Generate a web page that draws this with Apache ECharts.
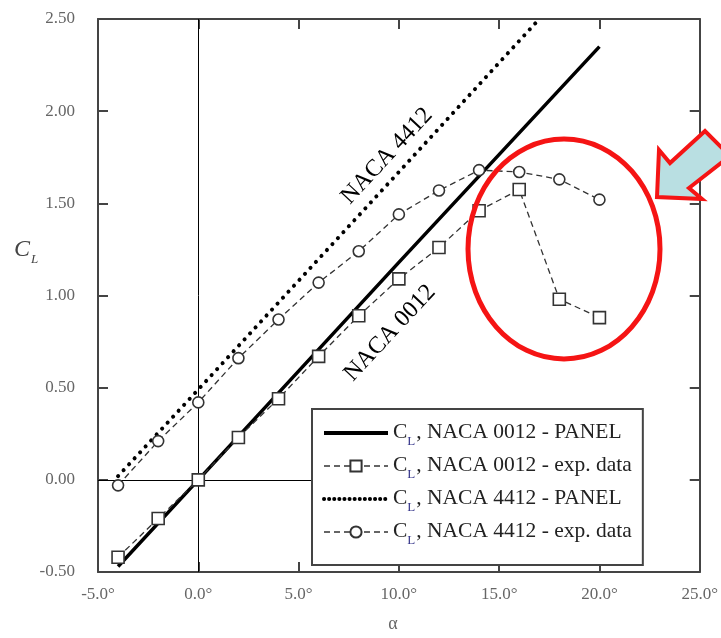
<!DOCTYPE html>
<html><head><meta charset="utf-8">
<script src="https://cdn.jsdelivr.net/npm/echarts@6/dist/echarts.min.js"></script>
<style>html,body{margin:0;padding:0;background:#fff}#c{width:721px;height:638px}</style>
</head><body><div id="c"></div>
<script>
// ---- data ----
const alphaExp = [-4, -2, 0, 2, 4, 6, 8, 10, 12, 14, 16, 18, 20];
const cl0012Exp = [-0.42, -0.21, 0.0, 0.23, 0.44, 0.67, 0.89, 1.09, 1.26, 1.46, 1.575, 0.98, 0.88];
const cl4412Exp = [-0.03, 0.21, 0.42, 0.66, 0.87, 1.07, 1.24, 1.44, 1.57, 1.68, 1.67, 1.63, 1.52];
const alphaPanel0012 = [-4, 0, 10, 20];
const cl0012Panel = [-0.47, 0.0, 1.18, 2.35];
const alphaPanel4412 = [-4, 0, 10, 17];
const cl4412Panel = [0.02, 0.49, 1.67, 2.5];
const xRange = [-5, 25, 5];     // min, max, interval
const yRange = [-0.5, 2.5, 0.5];
const zeroLineXEnd = 10;        // horizontal zero line runs under the legend box
const seriesNames = ['NACA 0012 - PANEL', 'NACA 0012 - exp. data', 'NACA 4412 - PANEL', 'NACA 4412 - exp. data'];
const annotations = ['NACA 4412', 'NACA 0012'];

const zip = (xs, ys) => xs.map((x, i) => [x, ys[i]]);
const SERIF = "'Liberation Serif', 'DejaVu Serif', serif";

const axisLine = { onZero: false, lineStyle: { color: '#444', width: 2 } };
const axisTick = { inside: true, length: 10, lineStyle: { color: '#444', width: 2 } };

const chart = echarts.init(document.getElementById('c'), null, { renderer: 'canvas' });
chart.setOption({
  animation: false,
  backgroundColor: '#fff',
  grid: { left: 98, right: 18, top: 19, bottom: 58 },
  xAxis: [
    { type: 'value', min: xRange[0], max: xRange[1], interval: xRange[2], position: 'bottom',
      axisLine, axisTick, splitLine: { show: false },
      axisLabel: { formatter: v => v.toFixed(1) + '°', fontFamily: SERIF, fontSize: 17, color: '#666', margin: 14 },
      name: 'α', nameLocation: 'middle', nameGap: 43,
      nameTextStyle: { fontFamily: SERIF, fontSize: 18, color: '#666', padding: [0, 12, 0, 0] } },
    { type: 'value', min: xRange[0], max: xRange[1], interval: xRange[2], position: 'top',
      axisLine, axisTick, splitLine: { show: false }, axisLabel: { show: false } }
  ],
  yAxis: [
    { type: 'value', min: yRange[0], max: yRange[1], interval: yRange[2], position: 'left',
      axisLine, axisTick, splitLine: { show: false },
      axisLabel: { formatter: v => v.toFixed(2), fontFamily: SERIF, fontSize: 17, color: '#666', margin: 23 } },
    { type: 'value', min: yRange[0], max: yRange[1], interval: yRange[2], position: 'right',
      axisLine, axisTick, splitLine: { show: false }, axisLabel: { show: false } }
  ],
  legend: {
    orient: 'vertical', left: 312, top: 409, z: 10,
    padding: [9, 11, 18, 10], itemGap: 3, itemWidth: 64, itemHeight: 14,
    backgroundColor: '#fff', borderColor: '#444', borderWidth: 2, borderRadius: 0,
    data: [
      { name: seriesNames[0], lineStyle: { width: 4, color: '#000' } },
      { name: seriesNames[1], lineStyle: { width: 1.5, color: '#333', type: [6, 4] } },
      { name: seriesNames[2], lineStyle: { width: 4, color: '#000', type: [0.1, 5], cap: 'round' } },
      { name: seriesNames[3], lineStyle: { width: 1.5, color: '#333', type: [6, 4] } }
    ],
    formatter: name => '{c|C}{s|L}{c|, ' + name + '}',
    textStyle: {
      fontFamily: SERIF, fontSize: 21.5, color: '#222',
      rich: {
        c: { fontFamily: SERIF, fontSize: 21.5, lineHeight: 24, verticalAlign: 'top', color: '#222' },
        s: { fontFamily: SERIF, fontSize: 13, lineHeight: 13, padding: [17, 1, 0, 0], color: '#35358a' }
      }
    }
  },
  series: [
    { name: seriesNames[0], type: 'line', data: zip(alphaPanel0012, cl0012Panel),
      symbol: 'none', lineStyle: { color: '#000', width: 3.5 }, itemStyle: { color: 'rgba(0,0,0,0)' },
      markLine: { silent: true, z: 1, symbol: ['none', 'none'], label: { show: false },
        lineStyle: { color: '#000', width: 1, type: 'solid' },
        data: [{ xAxis: 0 }, [{ coord: [xRange[0], 0] }, { coord: [zeroLineXEnd, 0] }]] } },
    { name: seriesNames[1], type: 'line', data: zip(alphaExp, cl0012Exp),
      symbol: 'rect', symbolSize: 12,
      lineStyle: { color: '#333', width: 1.3, type: [6, 4] },
      itemStyle: { color: '#fff', borderColor: '#333', borderWidth: 1.6 } },
    { name: seriesNames[2], type: 'line', data: zip(alphaPanel4412, cl4412Panel),
      symbol: 'none',
      lineStyle: { color: '#000', width: 4, type: [0.1, 8], cap: 'round' }, itemStyle: { color: 'rgba(0,0,0,0)' } },
    { name: seriesNames[3], type: 'line', data: zip(alphaExp, cl4412Exp),
      symbol: 'circle', symbolSize: 11,
      lineStyle: { color: '#333', width: 1.3, type: [6, 4] },
      itemStyle: { color: '#fff', borderColor: '#333', borderWidth: 1.6 } }
  ],
  graphic: [
    { type: 'text', x: 387, y: 156, rotation: 47 * Math.PI / 180, z: 10,
      style: { text: annotations[0], font: "24px 'Liberation Serif'", fill: '#000', align: 'center', verticalAlign: 'middle' } },
    { type: 'text', x: 390, y: 333, rotation: 47 * Math.PI / 180, z: 10,
      style: { text: annotations[1], font: "24px 'Liberation Serif'", fill: '#000', align: 'center', verticalAlign: 'middle' } },
    { type: 'text', x: 14, y: 238, z: 10,
      style: { text: '{c|C}{s|L}', rich: {
        c: { font: "italic 24px 'Liberation Serif'", fill: '#444', lineHeight: 26, verticalAlign: 'top' },
        s: { font: "italic 13px 'Liberation Serif'", fill: '#444', lineHeight: 13, padding: [17, 0, 0, 1] } } } },
    { type: 'ellipse', z: 20, shape: { cx: 564, cy: 249, rx: 96, ry: 110 },
      style: { fill: 'none', stroke: '#f51414', lineWidth: 5 } },
    { type: 'polygon', z: 20,
      shape: { points: [[657, 197], [659, 150], [670, 163], [705, 131], [730, 156], [689, 188], [702, 199]] },
      style: { fill: '#b9dfe2', stroke: '#f51414', lineWidth: 4, lineJoin: 'miter' } }
  ]
});
</script>
</body></html>
